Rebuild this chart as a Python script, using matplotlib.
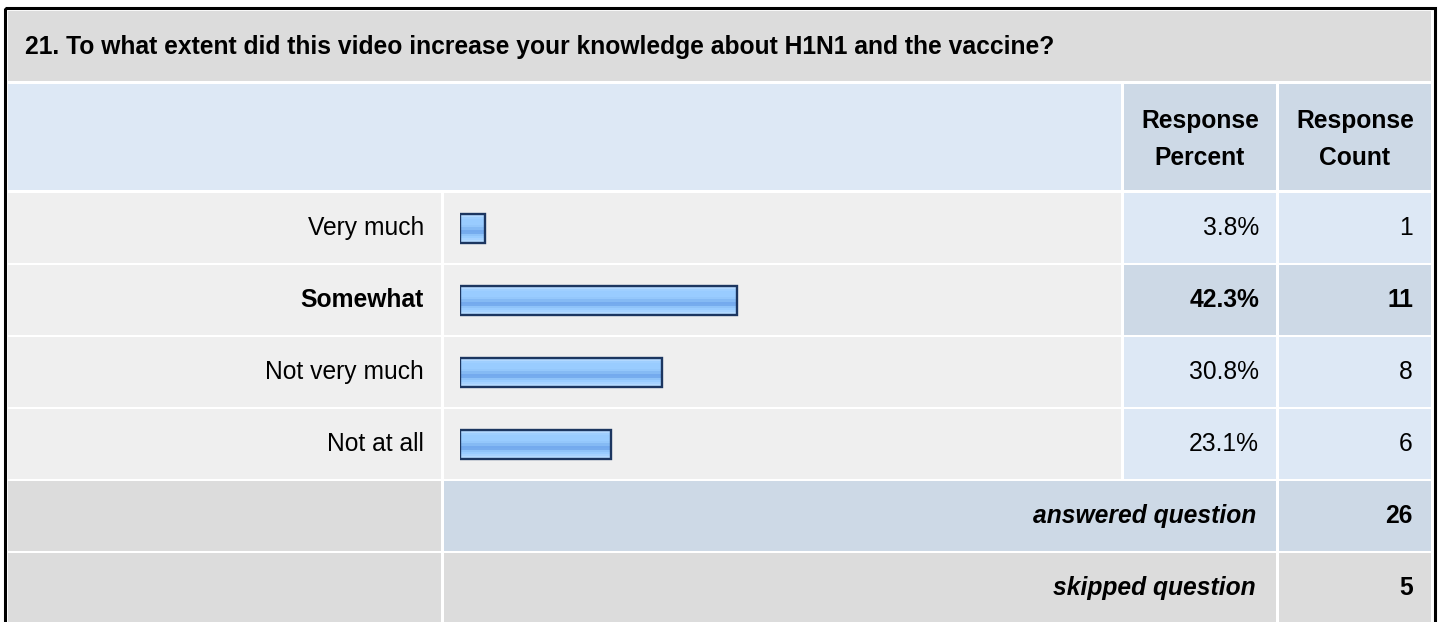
import numpy as np
import matplotlib.pyplot as plt
from matplotlib.patches import Rectangle
from matplotlib.colors import to_rgb

title = "21. To what extent did this video increase your knowledge about H1N1 and the vaccine?"
answers = ["Very much", "Somewhat", "Not very much", "Not at all"]
percent = [3.8, 42.3, 30.8, 23.1]
count = [1, 11, 8, 6]
answered = 26
skipped = 5
highlight = 1  # the "Somewhat" row is drawn bold / darker

plt.rcParams['font.family'] = ['Liberation Sans', 'DejaVu Sans']
fs = 17.7

gray = '#dcdcdc'
light = '#efefef'
blue1 = '#dde8f5'
blue2 = '#cdd9e6'

fig = plt.figure(figsize=(14.4, 6.22), dpi=100)
ax = fig.add_axes([0, 0, 1, 1])
ax.set_xlim(0, 1440)
ax.set_ylim(622, 0)
ax.axis('off')

def cell(x0, x1, y0, y1, c):
    ax.add_patch(Rectangle((x0, y0), x1 - x0, y1 - y0, facecolor=c, edgecolor='none'))

# column edges
c0, c1, c2, c3 = (8, 441), (444, 1121), (1124, 1276), (1279, 1431)

# outer border
ax.add_patch(Rectangle((4.5, 7.5), 1430, 640, facecolor='none', edgecolor='black', lw=2.2))

# title row
cell(c0[0], c3[1], 11, 81, gray)
ax.text(25, 47, title, fontsize=fs, fontweight='bold', va='center', ha='left')

# header row
cell(c0[0], c1[1], 84, 190, blue1)
cell(c2[0], c2[1], 84, 190, blue2)
cell(c3[0], c3[1], 84, 190, blue2)
for cx in [(c2[0] + c2[1]) / 2, (c3[0] + c3[1]) / 2]:
    ax.text(cx, 121, "Response", fontsize=fs, fontweight='bold', ha='center', va='center')
ax.text((c2[0] + c2[1]) / 2, 158, "Percent", fontsize=fs, fontweight='bold', ha='center', va='center')
ax.text((c3[0] + c3[1]) / 2, 158, "Count", fontsize=fs, fontweight='bold', ha='center', va='center')

# data rows
for i, (a, p, n) in enumerate(zip(answers, percent, count)):
    y0 = 193 + 72 * i
    y1 = y0 + 70
    yc = (y0 + y1) / 2
    cb = blue2 if i == highlight else blue1
    fw = 'bold' if i == highlight else 'normal'
    cell(c0[0], c0[1], y0, y1, light)
    cell(c1[0], c1[1], y0, y1, light)
    cell(c2[0], c2[1], y0, y1, cb)
    cell(c3[0], c3[1], y0, y1, cb)
    ax.text(424, yc, a, fontsize=fs, fontweight=fw, ha='right', va='center')
    ax.text(1259, yc, f"{p:.1f}%", fontsize=fs, fontweight=fw, ha='right', va='center')
    ax.text(1413, yc, str(n), fontsize=fs, fontweight=fw, ha='right', va='center')

# summary rows
y0 = 193 + 72 * 4
cell(c0[0], c0[1], y0, y0 + 70, gray)
cell(c1[0], c2[1], y0, y0 + 70, blue2)
cell(c3[0], c3[1], y0, y0 + 70, blue2)
ax.text(1256, y0 + 35, "answered question", fontsize=fs, fontweight='bold', style='italic', ha='right', va='center')
ax.text(1413, y0 + 35, str(answered), fontsize=fs, fontweight='bold', ha='right', va='center')
y0 += 72
cell(c0[0], c0[1], y0, y0 + 80, gray)
cell(c1[0], c2[1], y0, y0 + 80, gray)
cell(c3[0], c3[1], y0, y0 + 80, gray)
ax.text(1256, y0 + 35, "skipped question", fontsize=fs, fontweight='bold', style='italic', ha='right', va='center')
ax.text(1413, y0 + 35, str(skipped), fontsize=fs, fontweight='bold', ha='right', va='center')

# bars
bax = fig.add_axes([460 / 1440, 1 - 480 / 622, 655 / 1440, 288 / 622])
bax.axis('off')
grad_cols = ['#c8e4ff', '#b2d8ff', '#9fcfff', '#99ccff', '#99ccff', '#99ccff', '#94c7fb',
             '#85baf4', '#74aaee', '#76acee', '#8fc3f9', '#99ccff', '#a6d2ff', '#b4daff']
grad = np.array([to_rgb(c) for c in grad_cols])[:, None, :]
h = 29 / 72
bars = bax.barh(range(len(percent)), percent, height=h, facecolor='none',
                edgecolor='#1c3660', linewidth=1.7, zorder=3)
for b in bars:
    x, y = b.get_x(), b.get_y()
    im = bax.imshow(grad, extent=[x, x + b.get_width(), y + h, y], aspect='auto',
                    interpolation='nearest', zorder=2)
    im.set_clip_path(b)
bax.set_xlim(0, 100)
bax.set_ylim(3.5, -0.5)

fig.savefig('out.png', dpi=100)
